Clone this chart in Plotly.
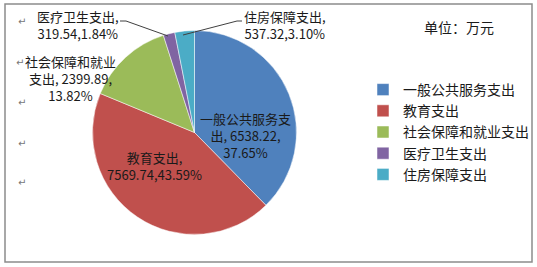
import plotly.graph_objects as go

categories = ["一般公共服务支出", "教育支出", "社会保障和就业支出", "医疗卫生支出", "住房保障支出"]
values = [6538.22, 7569.74, 2399.89, 319.54, 537.32]
percents = ["37.65%", "43.59%", "13.82%", "1.84%", "3.10%"]
colors = ["#4F81BD", "#C0504D", "#9BBB59", "#8064A2", "#4BACC6"]

W, H = 537, 267
FONT = "Noto Sans CJK SC, Noto Sans, sans-serif"


def px(x):
    return x / W


def py(y):
    return 1 - y / H


fig = go.Figure()
fig.add_trace(go.Pie(
    labels=categories,
    values=values,
    sort=False,
    direction="clockwise",
    rotation=0,
    textinfo="none",
    hoverinfo="label+value+percent",
    marker=dict(colors=colors, line=dict(color="white", width=0.5)),
    domain=dict(x=[px(92.5), px(296.5)], y=[py(234.5), py(30.5)]),
    showlegend=True,
))

label_text = [
    f"一般公共服务支<br>出, {values[0]:.2f},<br>{percents[0]}",
    f"教育支出,<br>{values[1]:.2f},{percents[1]}",
    f"社会保障和就业<br>支出, {values[2]:.2f},<br>{percents[2]}",
    f"医疗卫生支出,<br>{values[3]:.2f},{percents[3]}",
    f"住房保障支出,<br>{values[4]:.2f},{percents[4]}",
]
label_pos = [(245, 135), (155, 166), (70, 78), (78, 25), (285, 25)]

annotations = []
for t, (x, y) in zip(label_text, label_pos):
    annotations.append(dict(
        x=px(x), y=py(y), xref="paper", yref="paper", text=t, showarrow=False,
        xanchor="center", yanchor="middle", align="center",
        font=dict(family=FONT, size=13, color="#1a1a1a"),
    ))

annotations.append(dict(
    x=px(459), y=py(27), xref="paper", yref="paper", text="单位：万元", showarrow=False,
    xanchor="center", yanchor="middle",
    font=dict(family=FONT, size=14, color="#1a1a1a"),
))

for (x, y) in [(22, 22), (20, 62), (22, 102), (22, 143), (22, 182)]:
    annotations.append(dict(
        x=px(x), y=py(y), xref="paper", yref="paper", text="↵", showarrow=False,
        xanchor="center", yanchor="middle",
        font=dict(family="DejaVu Sans", size=10, color="#777777"),
    ))

shapes = [
    dict(type="rect", xref="paper", yref="paper", x0=px(5), y0=py(262), x1=px(532), y1=py(4),
         line=dict(color="#8c8c8c", width=1.5), fillcolor="rgba(0,0,0,0)"),
    dict(type="path", xref="paper", yref="paper",
         path=f"M {px(120)},{py(21)} L {px(126)},{py(21)} L {px(168)},{py(36)}",
         line=dict(color="#404040", width=1)),
    dict(type="path", xref="paper", yref="paper",
         path=f"M {px(242)},{py(21)} L {px(237)},{py(21)} L {px(183)},{py(35)}",
         line=dict(color="#404040", width=1)),
]

fig.update_layout(
    width=W, height=H,
    margin=dict(l=0, r=0, t=0, b=0),
    paper_bgcolor="white", plot_bgcolor="white",
    annotations=annotations,
    shapes=shapes,
    legend=dict(
        x=px(363), y=py(74), xanchor="left", yanchor="top",
        font=dict(family=FONT, size=14, color="#1a1a1a"),
        bgcolor="rgba(0,0,0,0)", itemwidth=30, tracegroupgap=0,
    ),
)

fig.write_html("out.html")
